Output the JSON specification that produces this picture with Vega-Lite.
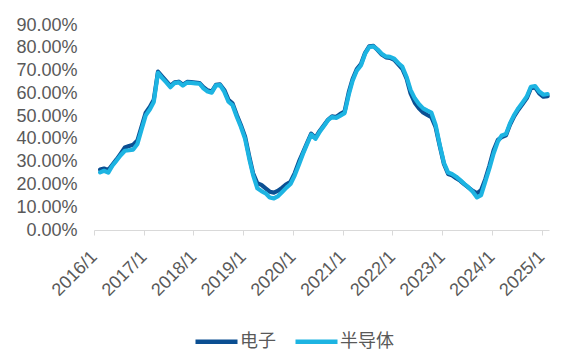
{
  "$schema": "https://vega.github.io/schema/vega-lite/v6.json",
  "width": 455,
  "height": 205,
  "autosize": "none",
  "padding": {"left": 94, "top": 25, "right": 37, "bottom": 126},
  "background": "white",
  "config": {
    "view": {"stroke": null},
    "font": "Liberation Sans"
  },
  "data": {
    "values": [
      {"date": "2016/02/15", "电子": 26.5, "半导体": 25.3},
      {"date": "2016/03/15", "电子": 27.0, "半导体": 26.0},
      {"date": "2016/04/15", "电子": 26.3, "半导体": 25.2},
      {"date": "2016/05/15", "电子": 28.6, "半导体": 28.2},
      {"date": "2016/06/15", "电子": 31.0, "半导体": 30.5},
      {"date": "2016/07/15", "电子": 33.5, "半导体": 32.8},
      {"date": "2016/08/15", "电子": 36.2, "半导体": 34.8},
      {"date": "2016/09/15", "电子": 36.9, "半导体": 35.0},
      {"date": "2016/10/15", "电子": 37.4, "半导体": 35.3},
      {"date": "2016/11/15", "电子": 39.3, "半导体": 37.8},
      {"date": "2016/12/15", "电子": 45.3, "半导体": 44.0},
      {"date": "2017/01/15", "电子": 51.5, "半导体": 50.3},
      {"date": "2017/02/15", "电子": 54.1, "半导体": 53.0},
      {"date": "2017/03/15", "电子": 57.2, "半导体": 56.2},
      {"date": "2017/04/15", "电子": 69.5, "半导体": 69.0},
      {"date": "2017/05/15", "电子": 67.4, "半导体": 66.8},
      {"date": "2017/06/15", "电子": 65.3, "半导体": 64.8},
      {"date": "2017/07/15", "电子": 63.3, "半导体": 62.7},
      {"date": "2017/08/15", "电子": 64.8, "半导体": 64.5},
      {"date": "2017/09/15", "电子": 65.1, "半导体": 64.8},
      {"date": "2017/10/15", "电子": 63.8, "半导体": 63.4},
      {"date": "2017/11/15", "电子": 65.0, "半导体": 64.7},
      {"date": "2017/12/15", "电子": 64.9, "半导体": 64.6},
      {"date": "2018/01/15", "电子": 64.7, "半导体": 64.4},
      {"date": "2018/02/15", "电子": 64.5, "半导体": 64.2},
      {"date": "2018/03/15", "电子": 62.7, "半导体": 62.2},
      {"date": "2018/04/15", "电子": 61.3, "半导体": 60.8},
      {"date": "2018/05/15", "电子": 60.8, "半导体": 60.3},
      {"date": "2018/06/15", "电子": 63.7, "半导体": 63.5},
      {"date": "2018/07/15", "电子": 63.9, "半导体": 63.6},
      {"date": "2018/08/15", "电子": 61.5, "半导体": 60.7},
      {"date": "2018/09/15", "电子": 57.1, "半导体": 56.3},
      {"date": "2018/10/15", "电子": 55.6, "半导体": 54.8},
      {"date": "2018/11/15", "电子": 50.5, "半导体": 49.7},
      {"date": "2018/12/15", "电子": 46.1, "半导体": 45.3},
      {"date": "2019/01/15", "电子": 41.0, "半导体": 40.0},
      {"date": "2019/02/15", "电子": 32.2, "半导体": 31.2},
      {"date": "2019/03/15", "电子": 24.9, "半导体": 24.1},
      {"date": "2019/04/15", "电子": 20.5, "半导体": 18.3},
      {"date": "2019/05/15", "电子": 19.8, "半导体": 17.1},
      {"date": "2019/06/15", "电子": 18.3, "半导体": 16.1},
      {"date": "2019/07/15", "电子": 16.8, "半导体": 14.3},
      {"date": "2019/08/15", "电子": 16.4, "半导体": 13.9},
      {"date": "2019/09/15", "电子": 17.3, "半导体": 14.9},
      {"date": "2019/10/15", "电子": 18.6, "半导体": 16.7},
      {"date": "2019/11/15", "电子": 20.1, "半导体": 18.6},
      {"date": "2019/12/15", "电子": 21.2, "半导体": 20.2},
      {"date": "2020/01/15", "电子": 25.0, "半导体": 24.0},
      {"date": "2020/02/15", "电子": 30.0, "半导体": 28.8},
      {"date": "2020/03/15", "电子": 34.0, "半导体": 33.4},
      {"date": "2020/04/15", "电子": 38.3, "半导体": 37.8},
      {"date": "2020/05/15", "电子": 42.3, "半导体": 41.9},
      {"date": "2020/06/15", "电子": 40.5, "半导体": 40.0},
      {"date": "2020/07/15", "电子": 43.4, "半导体": 43.0},
      {"date": "2020/08/15", "电子": 45.9, "半导体": 45.5},
      {"date": "2020/09/15", "电子": 48.4, "半导体": 48.2},
      {"date": "2020/10/15", "电子": 49.9, "半导体": 49.6},
      {"date": "2020/11/15", "电子": 49.6, "半导体": 49.2},
      {"date": "2020/12/15", "电子": 51.0, "半导体": 50.2},
      {"date": "2021/01/15", "电子": 52.0, "半导体": 51.3},
      {"date": "2021/02/15", "电子": 60.5, "半导体": 59.5},
      {"date": "2021/03/15", "电子": 66.3, "半导体": 65.5},
      {"date": "2021/04/15", "电子": 70.6, "半导体": 70.0},
      {"date": "2021/05/15", "电子": 72.8, "半导体": 72.2},
      {"date": "2021/06/15", "电子": 77.8, "半导体": 77.4},
      {"date": "2021/07/15", "电子": 80.6, "半导体": 80.3},
      {"date": "2021/08/15", "电子": 80.8, "半导体": 80.6},
      {"date": "2021/09/15", "电子": 79.0, "半导体": 79.2},
      {"date": "2021/10/15", "电子": 77.0, "半导体": 77.4},
      {"date": "2021/11/15", "电子": 75.8, "半导体": 76.2},
      {"date": "2021/12/15", "电子": 75.6, "半导体": 76.0},
      {"date": "2022/01/15", "电子": 74.7, "半导体": 75.2},
      {"date": "2022/02/15", "电子": 72.6, "半导体": 73.2},
      {"date": "2022/03/15", "电子": 70.8, "半导体": 71.7},
      {"date": "2022/04/15", "电子": 66.6, "半导体": 67.3},
      {"date": "2022/05/15", "电子": 60.0, "半导体": 61.5},
      {"date": "2022/06/15", "电子": 55.9, "半导体": 57.8},
      {"date": "2022/07/15", "电子": 53.4, "半导体": 55.3},
      {"date": "2022/08/15", "电子": 51.6, "半导体": 53.4},
      {"date": "2022/09/15", "电子": 50.5, "半导体": 52.4},
      {"date": "2022/10/15", "电子": 49.5, "半导体": 51.5},
      {"date": "2022/11/15", "电子": 45.1, "半导体": 46.1},
      {"date": "2022/12/15", "电子": 37.0, "半导体": 37.5},
      {"date": "2023/01/15", "电子": 29.0, "半导体": 29.5},
      {"date": "2023/02/15", "电子": 24.6, "半导体": 25.2},
      {"date": "2023/03/15", "电子": 24.0, "半导体": 24.6},
      {"date": "2023/04/15", "电子": 22.7, "半导体": 23.4},
      {"date": "2023/05/15", "电子": 21.6, "半导体": 21.9},
      {"date": "2023/06/15", "电子": 20.0, "半导体": 20.2},
      {"date": "2023/07/15", "电子": 18.6, "半导体": 18.7},
      {"date": "2023/08/15", "电子": 17.2, "半导体": 16.8},
      {"date": "2023/09/15", "电子": 16.1, "半导体": 14.3},
      {"date": "2023/10/15", "电子": 17.5, "半导体": 15.3},
      {"date": "2023/11/15", "电子": 22.3, "半导体": 21.2},
      {"date": "2023/12/15", "电子": 28.2, "半导体": 27.0},
      {"date": "2024/01/15", "电子": 35.0, "半导体": 33.6},
      {"date": "2024/02/15", "电子": 39.5, "半导体": 38.8},
      {"date": "2024/03/15", "电子": 40.8, "半导体": 41.5},
      {"date": "2024/04/15", "电子": 41.6, "半导体": 42.1},
      {"date": "2024/05/15", "电子": 46.3, "半导体": 46.9},
      {"date": "2024/06/15", "电子": 50.0, "半导体": 50.6},
      {"date": "2024/07/15", "电子": 52.8, "半导体": 53.5},
      {"date": "2024/08/15", "电子": 55.3, "半导体": 56.0},
      {"date": "2024/09/15", "电子": 57.9, "半导体": 58.6},
      {"date": "2024/10/15", "电子": 62.3, "半导体": 62.9},
      {"date": "2024/11/15", "电子": 62.6, "半导体": 63.2},
      {"date": "2024/12/15", "电子": 60.0, "半导体": 60.8},
      {"date": "2025/01/15", "电子": 58.5, "半导体": 59.4},
      {"date": "2025/02/15", "电子": 58.8, "半导体": 59.7}
    ]
  },
  "transform": [
    {"fold": ["电子", "半导体"], "as": ["series", "value"]}
  ],
  "encoding": {
    "x": {
      "field": "date",
      "type": "temporal",
      "scale": {"domain": [{"year": 2016, "month": 1, "date": 1}, {"year": 2025, "month": 2, "date": 25}]},
      "axis": {
        "title": null,
        "format": "%Y/%-m",
        "tickCount": {"interval": "year", "step": 1},
        "grid": false,
        "domainColor": "#d9d9d9",
        "domainWidth": 1,
        "tickColor": "#d9d9d9",
        "tickSize": 5,
        "labelAngle": -45,
        "labelAlign": "right",
        "labelBaseline": "middle",
        "labelPadding": 19,
        "labelFontSize": 18,
        "labelColor": "#595959",
        "labelFont": "Liberation Sans",
        "labelFlush": false,
        "labelOverlap": false
      }
    },
    "y": {
      "field": "value",
      "type": "quantitative",
      "scale": {"domain": [0, 90], "nice": false},
      "axis": {
        "title": null,
        "values": [0, 10, 20, 30, 40, 50, 60, 70, 80, 90],
        "labelExpr": "format(datum.value, '.2f') + '%'",
        "grid": false,
        "domain": false,
        "ticks": false,
        "tickSize": 0,
        "labelPadding": 17,
        "labelFontSize": 18,
        "labelColor": "#595959",
        "labelFont": "Liberation Sans"
      }
    },
    "color": {
      "field": "series",
      "type": "nominal",
      "scale": {"domain": ["电子", "半导体"], "range": ["#0B4F92", "#1DB4E2"]},
      "legend": {
        "title": null,
        "orient": "none",
        "direction": "horizontal",
        "legendX": 99,
        "legendY": 293,
        "padding": 0,
        "symbolType": "stroke",
        "symbolSize": 1764,
        "symbolStrokeWidth": 4.5,
        "labelFontSize": 18,
        "labelFont": "Noto Sans CJK SC",
        "labelColor": "#595959",
        "labelOffset": 0,
        "columnPadding": 10
      }
    }
  },
  "layer": [
    {
      "transform": [{"filter": "datum.series === '电子'"}],
      "mark": {"type": "line", "strokeWidth": 4.2, "strokeCap": "round", "strokeJoin": "round"}
    },
    {
      "transform": [{"filter": "datum.series === '半导体'"}],
      "mark": {"type": "line", "strokeWidth": 4.2, "strokeCap": "round", "strokeJoin": "round"}
    }
  ]
}
